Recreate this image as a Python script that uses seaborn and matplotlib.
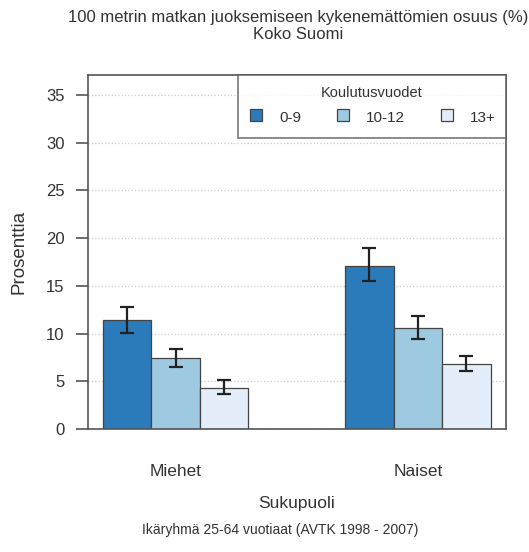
import numpy as np
import pandas as pd
import matplotlib
matplotlib.use("Agg")
import matplotlib.pyplot as plt
from matplotlib.lines import Line2D
import seaborn as sns

sukupuoli = ["Miehet", "Naiset"]
koulutus = ["0-9", "10-12", "13+"]
# osuus (%) ja luottamusvälit, luettu kuvasta
miehet = [11.4, 7.4, 4.3]
miehet_ala = [10.1, 6.5, 3.7]
miehet_yla = [12.8, 8.4, 5.1]
naiset = [17.1, 10.6, 6.8]
naiset_ala = [15.5, 9.4, 6.1]
naiset_yla = [19.0, 11.8, 7.6]
y_ticks = [0, 5, 10, 15, 20, 25, 30, 35]

varit = ["#2b7bba", "#9ecae1", "#e3eefa"]

df = pd.DataFrame({
    "Sukupuoli": [s for s in sukupuoli for _ in koulutus],
    "Koulutusvuodet": koulutus * 2,
    "Prosenttia": miehet + naiset,
    "ala": miehet_ala + naiset_ala,
    "yla": miehet_yla + naiset_yla,
})

sns.set_style("white")
plt.rcParams["font.family"] = ["Liberation Sans", "DejaVu Sans"]

fig = plt.figure(figsize=(5.29, 5.52), dpi=100)
ax = fig.add_axes([88 / 529, 1 - 429 / 552, (506 - 88) / 529, (429 - 75) / 552])

sns.barplot(data=df, x="Sukupuoli", y="Prosenttia", hue="Koulutusvuodet",
            order=sukupuoli, hue_order=koulutus, palette=varit, saturation=1,
            width=0.6, gap=0, errorbar=None, edgecolor="#444444",
            linewidth=0.9, ax=ax, legend=False)

# virhepalkit palkkien keskelle
for cont, k in zip(ax.containers, koulutus):
    sub = df[df["Koulutusvuodet"] == k].set_index("Sukupuoli").loc[sukupuoli]
    xs = [p.get_x() + p.get_width() / 2 for p in cont.patches]
    ax.errorbar(xs, sub["Prosenttia"],
                yerr=[sub["Prosenttia"] - sub["ala"], sub["yla"] - sub["Prosenttia"]],
                fmt="none", ecolor="#222222", elinewidth=1.6, capsize=5, capthick=1.6)

ax.set_ylim(0, 37.1)
ax.set_xlim(-0.361, 1.363)
ax.set_yticks(y_ticks)
ax.yaxis.grid(True, color="#cccccc", linestyle=":", linewidth=0.9)
ax.set_axisbelow(True)
for s in ax.spines.values():
    s.set_visible(True)
    s.set_color("#555555")
    s.set_linewidth(1.2)
ax.tick_params(axis="y", left=True, length=9, width=1.2, color="#555555",
               labelsize=12, labelcolor="#333333", pad=8)
ax.tick_params(axis="x", bottom=False, labelsize=12.5, labelcolor="#333333", pad=22)

ax.set_xlabel("Sukupuoli", fontsize=12.5, color="#333333", labelpad=12)
ax.set_ylabel("Prosenttia", fontsize=13.5, color="#333333", labelpad=13)

handles = [Line2D([], [], marker="s", ls="", markersize=9, markerfacecolor=c,
                  markeredgecolor="#444444", markeredgewidth=0.9) for c in varit]
leg = ax.legend(handles, koulutus, title="Koulutusvuodet", ncol=3,
                loc="upper right", bbox_to_anchor=(0.359, 0, 0.641, 1),
                mode="expand", borderaxespad=0, fontsize=11,
                title_fontsize=10.5, frameon=True, fancybox=False,
                handlelength=1.0, handleheight=1.6, handletextpad=1.0,
                borderpad=0.7)
leg.get_frame().set_edgecolor("#555555")
leg.get_frame().set_linewidth(1.2)
leg.get_title().set_color("#333333")
for t in leg.get_texts():
    t.set_color("#333333")

fig.text(298 / 529, 1 - 26 / 552, "100 metrin matkan juoksemiseen kykenemättömien osuus (%)\nKoko Suomi",
         ha="center", va="center", fontsize=12, color="#333333", linespacing=1.15)
fig.text(280 / 529, 1 - 530 / 552, "Ikäryhmä 25-64 vuotiaat (AVTK 1998 - 2007)",
         ha="center", va="center", fontsize=10, color="#333333")

fig.savefig("out.png", dpi=100)
